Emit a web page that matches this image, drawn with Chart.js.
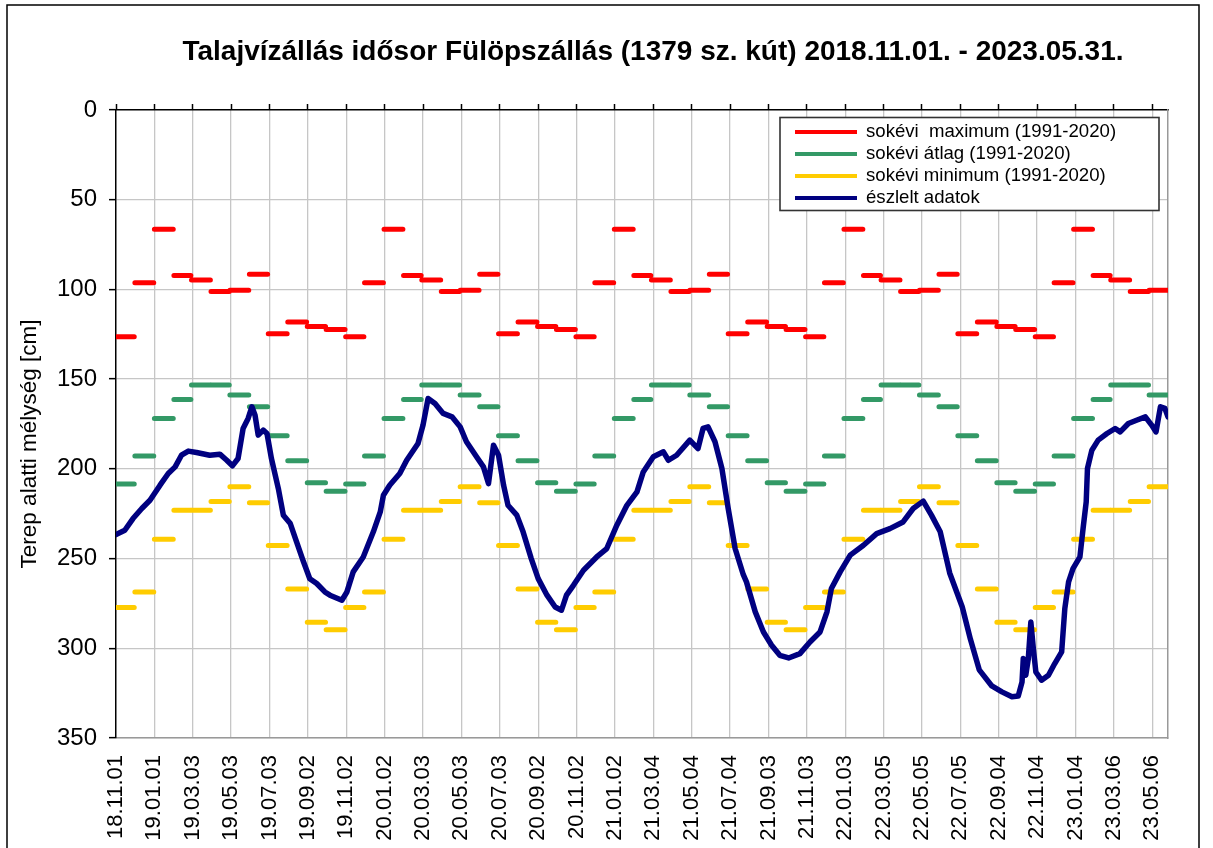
<!DOCTYPE html>
<html><head><meta charset="utf-8">
<script src="https://cdn.jsdelivr.net/npm/chart.js@4"></script>
<style>html,body{margin:0;padding:0;background:#fff;} canvas{display:block;}</style>
</head><body>
<canvas id="c" width="1213" height="848"></canvas>
<script>
const titleText = 'Talajvízállás idősor Fülöpszállás (1379 sz. kút) 2018.11.01. - 2023.05.31.';
const yAxisTitle = 'Terep alatti mélység [cm]';
const seriesNames = ['sokévi  maximum (1991-2020)', 'sokévi átlag (1991-2020)', 'sokévi minimum (1991-2020)', 'észlelt adatok'];
const tickLabels = ['18.11.01','19.01.01','19.03.03','19.05.03','19.07.03','19.09.02','19.11.02',
  '20.01.02','20.03.03','20.05.03','20.07.03','20.09.02','20.11.02','21.01.02','21.03.04','21.05.04',
  '21.07.04','21.09.03','21.11.03','22.01.03','22.03.05','22.05.05','22.07.05','22.09.04','22.11.04',
  '23.01.04','23.03.06','23.05.06'];
// long-term monthly statistics, Jan..Dec (cm below ground)
const monthlyMax = [66.4, 92.2, 94.8, 101.1, 100.4, 91.5, 124.7, 118.2, 120.6, 122.3, 126.4, 96.3];
const monthlyAvg = [171.9, 161.3, 153.2, 153.2, 158.9, 165.4, 181.6, 195.5, 207.7, 212.5, 208.4, 192.9];
const monthlyMin = [239.2, 223.0, 223.0, 218.2, 210.0, 218.9, 242.7, 266.9, 285.5, 289.6, 277.3, 268.6];
// observed data: days since 2018-11-01 and depth
const obsDay = [0,14,27,41,54,70,83,94,104,115,128,149,165,176,185,194,202,210,216,221,226,234,240,247,258,266,277,287,298,308,319,332,340,359,367,377,393,409,420,425,435,451,462,480,488,496,507,520,534,547,557,573,584,592,600,608,616,623,637,647,660,671,685,698,708,716,727,743,764,780,796,812,828,838,854,870,878,891,912,925,933,941,952,963,973,984,997,1002,1016,1029,1042,1055,1069,1087,1103,1119,1130,1137,1151,1167,1188,1209,1230,1251,1267,1283,1296,1310,1325,1345,1358,1372,1392,1408,1424,1434,1440,1442,1446,1450,1454,1458,1462,1471,1482,1492,1503,1508,1514,1521,1532,1537,1542,1544,1551,1561,1575,1588,1596,1609,1622,1636,1646,1653,1660,1667,1672];
const obsDepth = [236.6,234.2,227.7,222.1,217.5,209.1,202.6,198.9,192.4,190.1,190.9,192.4,191.8,195.2,198.3,194.2,177.5,171.9,165.4,170.1,181.2,178.4,180.3,194.2,211.0,225.8,230.5,240.7,251.8,261.2,263.9,268.6,270.4,273.2,268.6,257.4,249.1,235.1,224.0,214.7,209.1,202.6,195.2,185.9,175.6,160.8,163.6,169.1,171.0,176.6,184.9,193.3,198.9,208.2,186.8,192.4,209.1,220.3,225.8,235.1,250.0,261.2,270.4,277.0,278.8,270.4,264.9,256.5,249.1,244.4,231.4,220.3,212.8,201.7,193.3,190.5,195.2,192.4,184.0,188.7,177.5,176.6,184.9,199.8,222.1,244.4,259.0,263.0,279.7,290.9,298.3,303.9,305.4,303.0,296.5,290.9,279.7,266.7,257.4,248.1,242.6,236.1,233.3,229.6,222.1,218.0,225.8,235.1,258.0,277.0,295.0,312.0,321.0,324.3,327.0,326.6,318.8,305.7,315.0,305.7,285.3,300.2,313.2,317.8,315.0,308.5,302.0,277.9,263.0,255.6,249.1,233.3,218.4,199.8,189.6,184.0,180.3,177.5,179.4,174.7,172.9,171.0,175.6,179.4,165.4,166.3,171.0];

const DAY = 86400000;
const T0 = Date.UTC(2018, 10, 1);
function dayOf(y, m, d) { return (Date.UTC(y, m - 1, d) - T0) / DAY; }
function labelDay(l) { const p = l.split('.').map(Number); return dayOf(2000 + p[0], p[1], p[2]); }
const xMin = dayOf(2018, 11, 1), xMax = dayOf(2023, 5, 31);

function monthlySegments(vals) {
  const pts = [];
  let y = 2018, m = 11;
  while (dayOf(y, m, 1) <= xMax) {
    const ny = m === 12 ? y + 1 : y, nm = m === 12 ? 1 : m + 1;
    const s = dayOf(y, m, 1), e = dayOf(ny, nm, 1) - 1;
    pts.push({x: s, y: vals[m - 1]}, {x: e, y: vals[m - 1]}, {x: e, y: null});
    y = ny; m = nm;
  }
  return pts;
}

const FONT = '"Liberation Sans", Arial, sans-serif';
const GRID = '#c6c6c6';
const setTicks = s => { s.ticks = tickLabels.map(l => ({value: labelDay(l)})); };

const decor = {
  id: 'decor',
  beforeDraw(chart) {
    const ctx = chart.ctx; ctx.save(); ctx.fillStyle = '#fff';
    ctx.fillRect(0, 0, chart.width, chart.height); ctx.restore();
  },
  afterDraw(chart) {
    const ctx = chart.ctx, a = chart.chartArea;
    ctx.save();
    // outer frame
    ctx.strokeStyle = '#000'; ctx.lineWidth = 1.5;
    ctx.beginPath(); ctx.moveTo(7, chart.height); ctx.lineTo(7, 5); ctx.lineTo(1199, 5); ctx.lineTo(1199, chart.height); ctx.stroke();
    // chart title
    ctx.fillStyle = '#000'; ctx.textAlign = 'center'; ctx.textBaseline = 'middle';
    ctx.font = 'bold 28px ' + FONT;
    ctx.fillText(titleText, 653, 52);
    // y axis title
    ctx.save();
    ctx.translate(30, 444); ctx.rotate(-Math.PI / 2);
    ctx.font = '22.5px ' + FONT;
    ctx.fillText(yAxisTitle, 0, 0);
    ctx.restore();
    // legend
    const bx = a.right - 388, by = a.top + 7.5, bw = 379, bh = 93;
    ctx.fillStyle = '#fff'; ctx.fillRect(bx, by, bw, bh);
    ctx.strokeStyle = '#333'; ctx.lineWidth = 1.6; ctx.strokeRect(bx, by, bw, bh);
    ctx.font = '18.6px ' + FONT; ctx.textBaseline = 'middle'; ctx.textAlign = 'left';
    chart.data.datasets.forEach((ds, i) => {
      const yy = by + 14.5 + i * 22;
      ctx.strokeStyle = ds.borderColor; ctx.lineWidth = 4; ctx.lineCap = 'butt';
      ctx.beginPath(); ctx.moveTo(bx + 15, yy); ctx.lineTo(bx + 77, yy); ctx.stroke();
      ctx.fillStyle = '#000'; ctx.fillText(ds.label, bx + 86, yy);
    });
    ctx.restore();
  }
};

const segStyle = {borderWidth: 5, borderCapStyle: 'round', spanGaps: false, pointRadius: 0, fill: false};
new Chart(document.getElementById('c'), {
  type: 'line',
  data: {
    datasets: [
      Object.assign({label: seriesNames[0], data: monthlySegments(monthlyMax), borderColor: '#ff0000', order: 1}, segStyle),
      Object.assign({label: seriesNames[1], data: monthlySegments(monthlyAvg), borderColor: '#339966', order: 2}, segStyle),
      Object.assign({label: seriesNames[2], data: monthlySegments(monthlyMin), borderColor: '#ffcc00', order: 3}, segStyle),
      {label: seriesNames[3], data: obsDay.map((d, i) => ({x: d, y: obsDepth[i]})), borderColor: '#000080',
       borderWidth: 5.5, borderJoinStyle: 'round', borderCapStyle: 'round', pointRadius: 0, tension: 0, order: 0, fill: false}
    ]
  },
  options: {
    responsive: false, animation: false, devicePixelRatio: 1,
    layout: {padding: {left: 0, right: 0, top: 104, bottom: 0}},
    plugins: {
      legend: {display: false}, tooltip: {enabled: false}, title: {display: false}
    },
    scales: {
      x: {type: 'linear', position: 'bottom', min: xMin, max: xMax,
        afterBuildTicks: setTicks,
        afterFit: s => { s.height = 110; },
        grid: {color: c => (c.tick && c.tick.value === 0) ? 'rgba(0,0,0,0)' : GRID, lineWidth: 1.3, drawTicks: false},
        border: {color: '#999', width: 1.5},
        ticks: {autoSkip: false, maxRotation: 90, minRotation: 90, padding: 17, color: '#000',
          font: {family: FONT, size: 22}, callback: (v, i) => tickLabels[i]}},
      xTop: {type: 'linear', position: 'top', min: xMin, max: xMax,
        afterBuildTicks: setTicks,
        afterFit: s => { s.height = 6; },
        grid: {drawOnChartArea: false, drawTicks: true, tickLength: 6, tickColor: '#000', tickWidth: 1.5},
        border: {color: '#000', width: 1.5},
        ticks: {display: false}},
      y: {position: 'left', reverse: true, min: 0, max: 350,
        afterFit: s => { s.width = 116; },
        grid: {color: c => (c.tick && c.tick.value === 0) ? 'rgba(0,0,0,0)' : GRID, lineWidth: 1.3,
          tickColor: '#000', tickLength: 7, tickWidth: 1.5},
        border: {color: '#000', width: 1.5},
        ticks: {stepSize: 50, padding: 12, color: '#000', font: {family: FONT, size: 24}}},
      yRight: {position: 'right', min: 0, max: 350,
        afterFit: s => { s.width = 45; },
        grid: {display: false, drawTicks: false},
        border: {display: true, color: '#999', width: 1.5},
        ticks: {display: false}}
    }
  },
  plugins: [decor]
});
</script>
</body></html>
